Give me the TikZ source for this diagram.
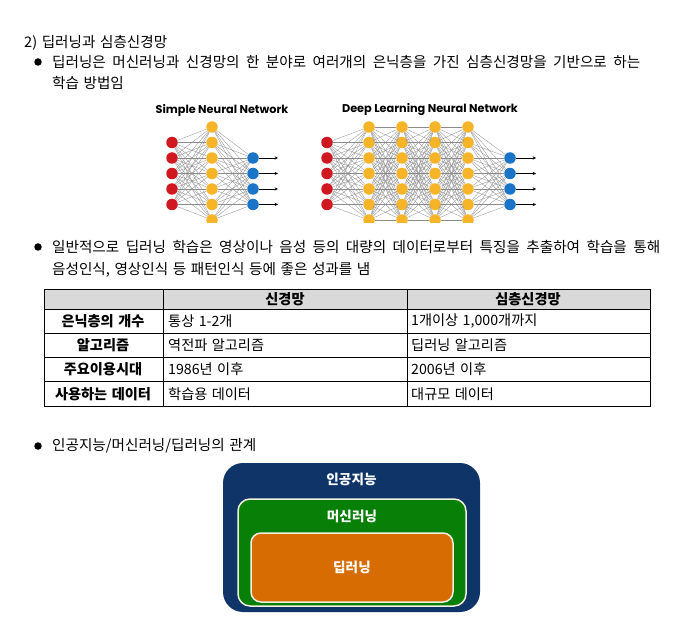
\documentclass[tikz,border=0pt]{standalone}
\usepackage{fontspec}
\setmainfont{Noto Sans CJK KR}[WordSpace=1.4]
\newfontfamily\netfont{Poppins}
\usetikzlibrary{positioning}

\definecolor{redn}{RGB}{208,24,32}
\definecolor{orgn}{RGB}{246,180,40}
\definecolor{blun}{RGB}{26,116,200}
\definecolor{aibox}{RGB}{14,52,104}
\definecolor{mlbox}{RGB}{8,128,8}
\definecolor{dlbox}{RGB}{214,108,2}
\definecolor{hdr}{RGB}{217,217,217}
\definecolor{rim}{RGB}{240,240,220}

\tikzset{
  txt/.style={anchor=west,inner sep=0pt,font=\fontsize{14.6}{16}\selectfont},
  dot/.style={circle,fill=black,minimum size=7.5pt,inner sep=0pt},
  neuron/.style={circle,minimum size=11.5pt,inner sep=0pt},
  link/.style={black!45,line width=0.3pt},
  cell/.style={inner sep=0pt,font=\fontsize{14.2}{16}\selectfont},
  headcell/.style={cell,font=\bfseries\fontsize{14.2}{16}\selectfont},
  title/.style={inner sep=0pt,font=\netfont\bfseries\fontsize{11.3}{13}\selectfont},
  boxlabel/.style={inner sep=0pt,text=white,font=\bfseries\fontsize{13.6}{15}\selectfont}
}

\begin{document}
\begin{tikzpicture}[x=1pt,y=-1pt]
  \useasboundingbox[fill=white] (0,0) rectangle (697,639);

  %heading and first bullet
  \node[txt] (h) at (24,43) {2) 딥러닝과 심층신경망};
  \node[dot] (d1) at (38,62) {};
  \node[txt] (l1) at (52,62) {\makebox[588pt][s]{딥러닝은 머신러닝과 신경망의 한 분야로 여러개의 은닉층을 가진 심층신경망을 기반으로 하는}};
  \node[txt] (l2) at (52,83) {학습 방법임};

  %networks
  \node[title] (t1) at (222,110) {Simple Neural Network};
  \node[title] (t2) at (430,110) {Deep Learning Neural Network};
  \begin{scope}
    \clip (140,100) rectangle (560,223);
    %simple
    \foreach \i in {1,...,5} \node[neuron,fill=redn] (sr\i) at (172,{127+15.5*\i}) {};
    \foreach \i in {1,...,7} \node[neuron,fill=orgn] (so\i) at (212,{111.5+15.5*\i}) {};
    \foreach \i in {1,...,4} \node[neuron,fill=blun] (sb\i) at (253,{142.5+15.5*\i}) {};
    \foreach \i in {1,...,5} \foreach \j in {1,...,7} \draw[link] (sr\i) -- (so\j);
    \foreach \i in {1,...,7} \foreach \j in {1,...,4} \draw[link] (so\i) -- (sb\j);
    \foreach \i in {1,...,4} {
      \coordinate (se\i) at ([xshift=25pt]sb\i.center);
      \draw[-stealth,line width=0.5pt] (sb\i) -- (se\i);
    }
    %deep
    \foreach \i in {1,...,5} \node[neuron,fill=redn] (dr\i) at (327,{127+15.5*\i}) {};
    \foreach \c/\x in {1/369,2/402,3/435,4/468}
      \foreach \i in {1,...,7} \node[neuron,fill=orgn] (do\c-\i) at (\x,{111.5+15.5*\i}) {};
    \foreach \i in {1,...,4} \node[neuron,fill=blun] (db\i) at (510,{142.5+15.5*\i}) {};
    \foreach \i in {1,...,5} \foreach \j in {1,...,7} \draw[link] (dr\i) -- (do1-\j);
    \foreach \c/\n in {1/2,2/3,3/4}
      \foreach \i in {1,...,7} \foreach \j in {1,...,7} \draw[link] (do\c-\i) -- (do\n-\j);
    \foreach \i in {1,...,7} \foreach \j in {1,...,4} \draw[link] (do4-\i) -- (db\j);
    \foreach \i in {1,...,4} {
      \coordinate (de\i) at ([xshift=26pt]db\i.center);
      \draw[-stealth,line width=0.5pt] (db\i) -- (de\i);
    }
  \end{scope}

  %second bullet
  \node[dot] (d2) at (38,247) {};
  \node[txt] (m1) at (52,247) {\makebox[608pt][s]{일반적으로 딥러닝 학습은 영상이나 음성 등의 대량의 데이터로부터 특징을 추출하여 학습을 통해}};
  \node[txt] (m2) at (52,270) {음성인식, 영상인식 등 패턴인식 등에 좋은 성과를 냄};

  %table
  \fill[hdr] (44,289) rectangle (650,309);
  \draw[line width=0.5pt] (44,309) -- (650,309) (44,333) -- (650,333) (44,357) -- (650,357) (44,381) -- (650,381);
  \draw[line width=0.5pt] (163,289) -- (163,406) (407,289) -- (407,406);
  \draw[line width=0.9pt] (44,289) rectangle (650,406);
  \node[headcell] (c01) at (285,299) {신경망};
  \node[headcell] (c02) at (528,299) {심층신경망};
  \node[headcell] (c10) at (103,321) {은닉층의 개수};
  \node[headcell] (c20) at (103,345) {알고리즘};
  \node[headcell] (c30) at (103,369) {주요이용시대};
  \node[headcell] (c40) at (103,394) {사용하는 데이터};
  \node[cell,anchor=west] (c11) at (168,321) {통상 1-2개};
  \node[cell,anchor=west] (c21) at (168,345) {역전파 알고리즘};
  \node[cell,anchor=west] (c31) at (168,369) {1986년 이후};
  \node[cell,anchor=west] (c41) at (168,394) {학습용 데이터};
  \node[cell,anchor=west] (c12) at (411,321) {1개이상 1,000개까지};
  \node[cell,anchor=west] (c22) at (411,345) {딥러닝 알고리즘};
  \node[cell,anchor=west] (c32) at (411,369) {2006년 이후};
  \node[cell,anchor=west] (c42) at (411,394) {대규모 데이터};

  %third bullet
  \node[dot] (d3) at (38,446) {};
  \node[txt] (n1) at (52,446) {인공지능/머신러닝/딥러닝의 관계};

  %nested boxes
  \fill[aibox,rounded corners=20pt] (223,463) rectangle (480,612);
  \filldraw[mlbox,draw=rim,line width=1.5pt,rounded corners=12pt] (238,499) rectangle (466,606);
  \filldraw[dlbox,draw=rim,line width=1.5pt,rounded corners=10pt] (251,533) rectangle (453,602);
  \node[boxlabel] (ai) at (351.5,479) {인공지능};
  \node[boxlabel] (ml) at (352,516) {머신러닝};
  \node[boxlabel] (dl) at (352,567) {딥러닝};
\end{tikzpicture}
\end{document}
